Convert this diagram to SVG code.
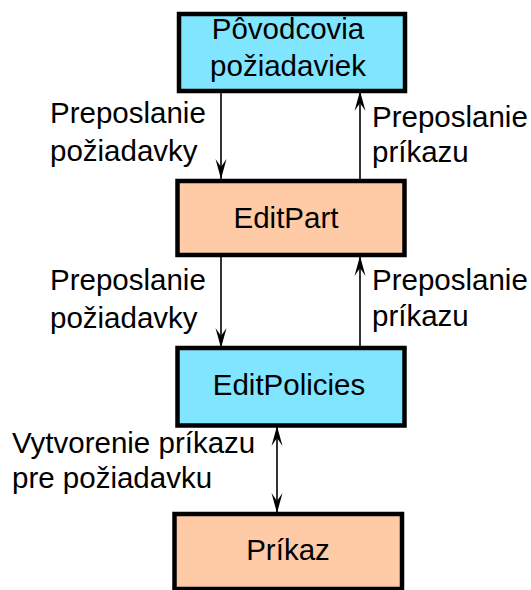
<svg xmlns="http://www.w3.org/2000/svg" width="531" height="590" viewBox="0 0 531 590">
  <style>
    .box { stroke: #000; stroke-width: 4.5; }
    .blue { fill: #80e5ff; }
    .peach { fill: #ffcba6; }
    .lbl { font-family: "Liberation Sans", Arial, sans-serif; font-size: 29.5px; fill: #000; }
    .mid { text-anchor: middle; }
    .conn { stroke: #000; stroke-width: 1.6; fill: none; }
  </style>
  <defs>
    <!-- barbed arrowhead, tip at the line end -->
    <marker id="head" viewBox="-21 -6 22 12" refX="0" refY="0" markerWidth="22" markerHeight="12" markerUnits="userSpaceOnUse" orient="auto-start-reverse">
      <path d="M0,0 L-20,-5.5 L-12,0 L-20,5.5 Z" fill="#000"/>
    </marker>
  </defs>

  <rect width="531" height="590" fill="#fff"/>

  <!-- connectors -->
  <g id="connectors">
    <line class="conn" x1="221" y1="93" x2="221" y2="179" marker-end="url(#head)"/>
    <line class="conn" x1="360" y1="179" x2="360" y2="91" marker-end="url(#head)"/>
    <line class="conn" x1="221" y1="257" x2="221" y2="348" marker-end="url(#head)"/>
    <line class="conn" x1="360" y1="346" x2="360" y2="256" marker-end="url(#head)"/>
    <line class="conn" x1="277" y1="426" x2="277" y2="513" marker-start="url(#head)" marker-end="url(#head)"/>
  </g>

  <!-- connector labels -->
  <g id="labels">
    <text class="lbl" x="50" y="123">Preposlanie</text>
    <text class="lbl" x="50" y="161">požiadavky</text>
    <text class="lbl" x="372" y="127">Preposlanie</text>
    <text class="lbl" x="372" y="162">príkazu</text>
    <text class="lbl" x="50" y="290">Preposlanie</text>
    <text class="lbl" x="50" y="328">požiadavky</text>
    <text class="lbl" x="372" y="290">Preposlanie</text>
    <text class="lbl" x="372" y="326">príkazu</text>
    <text class="lbl" x="12" y="453">Vytvorenie príkazu</text>
    <text class="lbl" x="12" y="488">pre požiadavku</text>
  </g>

  <g id="povodcovia">
    <rect class="box blue" x="179" y="14" width="226" height="77"/>
    <text class="lbl mid" x="288" y="39">Pôvodcovia</text>
    <text class="lbl mid" x="288" y="76">požiadaviek</text>
  </g>

  <g id="editpart">
    <rect class="box peach" x="177.5" y="181" width="227" height="74"/>
    <text class="lbl mid" x="286" y="228">EditPart</text>
  </g>

  <g id="editpolicies">
    <rect class="box blue" x="177.5" y="348" width="227" height="77.5"/>
    <text class="lbl mid" x="289" y="395">EditPolicies</text>
  </g>

  <g id="prikaz">
    <rect class="box peach" x="174.5" y="514" width="227.5" height="75"/>
    <text class="lbl mid" x="288" y="560">Príkaz</text>
  </g>
</svg>
